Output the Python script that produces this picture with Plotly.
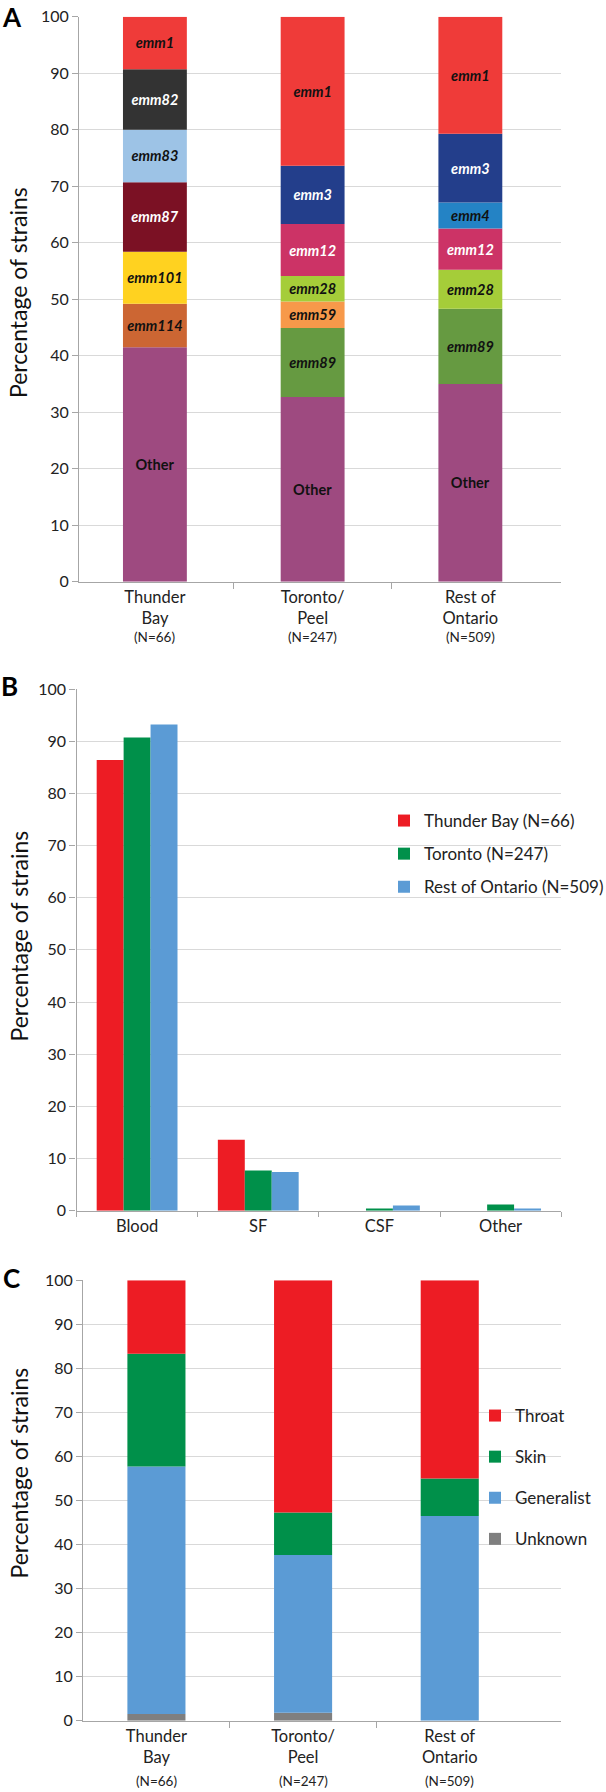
import plotly.graph_objects as go

W, H = 606, 1792
FONT = "Lato"
TXT = "#222222"
GRID = "#D9D9D9"
AXIS = "#A6A6A6"

# ---------------- Panel A data (emm types, % of strains) ----------------
regions = ["Thunder Bay", "Toronto/Peel", "Rest of Ontario"]
region_ticks = ["Thunder<br>Bay", "Toronto/<br>Peel", "Rest of<br>Ontario"]
region_n = ["(N=66)", "(N=247)", "(N=509)"]

emm_names = ["Other", "emm114", "emm101", "emm87", "emm83", "emm82",
             "emm89", "emm59", "emm28", "emm12", "emm4", "emm3", "emm1"]
other_pct = [41.5, 32.7, 35.0]
emm114_pct = [7.7, 0, 0]
emm101_pct = [9.2, 0, 0]
emm87_pct = [12.3, 0, 0]
emm83_pct = [9.3, 0, 0]
emm82_pct = [10.7, 0, 0]
emm89_pct = [0, 12.2, 13.3]
emm59_pct = [0, 4.7, 0]
emm28_pct = [0, 4.5, 6.9]
emm12_pct = [0, 9.2, 7.3]
emm4_pct = [0, 0, 4.6]
emm3_pct = [0, 10.3, 12.2]
emm1_pct = [9.3, 26.4, 20.7]
emm_values = [other_pct, emm114_pct, emm101_pct, emm87_pct, emm83_pct, emm82_pct,
              emm89_pct, emm59_pct, emm28_pct, emm12_pct, emm4_pct, emm3_pct, emm1_pct]
emm_colors = ["#9E4A80", "#CC6633", "#FFD220", "#7B1124", "#9DC3E6", "#333333",
              "#669A41", "#F7994A", "#A5CD39", "#CC3366", "#2483C5", "#233E8B", "#EF3B39"]
emm_text_colors = ["#111", "#111", "#111", "#fff", "#111", "#fff",
                   "#111", "#111", "#111", "#fff", "#111", "#fff", "#111"]

# ---------------- Panel B data (isolation site) ----------------
sites = ["Blood", "SF", "CSF", "Other"]
site_series = ["Thunder Bay (N=66)", "Toronto (N=247)", "Rest of Ontario (N=509)"]
tb_site = [86.4, 13.6, 0, 0]
tor_site = [90.7, 7.7, 0.4, 1.2]
rest_site = [93.2, 7.4, 1.0, 0.4]
site_values = [tb_site, tor_site, rest_site]
site_colors = ["#ED1C24", "#00904A", "#5B9BD5"]

# ---------------- Panel C data (tissue tropism) ----------------
tropism_names = ["Unknown", "Generalist", "Skin", "Throat"]
unknown_pct = [1.5, 1.8, 0]
generalist_pct = [56.2, 35.8, 46.5]
skin_pct = [25.6, 9.7, 8.5]
throat_pct = [16.7, 52.7, 45.0]
tropism_values = [unknown_pct, generalist_pct, skin_pct, throat_pct]
tropism_colors = ["#7F7F7F", "#5B9BD5", "#00904A", "#ED1C24"]
tropism_rank = [4, 3, 2, 1]


def px_x(p):
    return p / W


def px_y(p):
    return 1 - p / H


fig = go.Figure()
xpos = list(range(len(regions)))

# Panel A stacked bars
base = [0.0] * len(regions)
for name, vals, col, tcol in zip(emm_names, emm_values, emm_colors, emm_text_colors):
    fig.add_trace(go.Bar(
        x=xpos, y=vals, base=list(base), width=0.405,
        marker=dict(color=col, line=dict(width=0)),
        text=[name if v > 0 else "" for v in vals],
        textposition="inside", insidetextanchor="middle", textangle=0,
        textfont=dict(family=FONT, size=14.5, color=tcol, weight="bold",
                      style="normal" if name == "Other" else "italic"),
        showlegend=False, xaxis="x", yaxis="y", name=name))
    base = [b + v for b, v in zip(base, vals)]

# Panel B grouped bars
n = len(site_series)
group_w = 0.667
bw = group_w / n
for i, (name, vals, col) in enumerate(zip(site_series, site_values, site_colors)):
    fig.add_trace(go.Bar(
        x=sites, y=vals, width=bw, offset=-group_w / 2 + i * bw,
        marker=dict(color=col, line=dict(width=0)),
        name=name, legend="legend", legendgroup=name,
        xaxis="x2", yaxis="y2"))

# Panel C stacked bars
base = [0.0] * len(regions)
for name, vals, col, rk in zip(tropism_names, tropism_values, tropism_colors, tropism_rank):
    fig.add_trace(go.Bar(
        x=xpos, y=vals, base=list(base), width=0.396,
        marker=dict(color=col, line=dict(width=0)),
        name=name, legend="legend2", legendgroup=name, legendrank=rk,
        xaxis="x3", yaxis="y3"))
    base = [b + v for b, v in zip(base, vals)]

tickfont = dict(family=FONT, size=16, color=TXT)
yax = dict(range=[0, 100], tick0=0, dtick=10, showgrid=True, gridcolor=GRID, gridwidth=1,
           showline=True, linecolor=AXIS, linewidth=1.3, ticks="outside", ticklen=6,
           tickcolor=AXIS, tickfont=tickfont, zeroline=False, fixedrange=True,
           automargin=False)
xfont = dict(family=FONT, size=16.5, color=TXT)
legfont = dict(family=FONT, size=17, color=TXT)

fig.update_layout(
    width=W, height=H, margin=dict(l=0, r=0, t=0, b=0, autoexpand=False),
    paper_bgcolor="white", plot_bgcolor="white",
    barmode="overlay",
    uniformtext=dict(minsize=14, mode="show"),
    font=dict(family=FONT, color=TXT),
    xaxis=dict(domain=[px_x(79.2), px_x(561.2)], range=[-0.48, 2.576], anchor="y",
               tickmode="array", tickvals=xpos, ticktext=region_ticks, ticks="",
               tickfont=xfont, automargin=False,
               showline=True, linecolor=AXIS, linewidth=1.3, showgrid=False, zeroline=False,
               minor=dict(tickmode="array", tickvals=[0.5, 1.5], ticks="outside",
                          ticklen=6, tickcolor=AXIS, showgrid=False)),
    yaxis=dict(domain=[px_y(581.7), px_y(16.7)], anchor="x", **yax),
    xaxis2=dict(domain=[px_x(76.5), px_x(561.2)], range=[-0.5, 3.5], anchor="y2",
                type="category", categoryorder="array", categoryarray=sites,
                tickson="boundaries", ticks="outside", ticklen=5, tickcolor=AXIS,
                tickfont=xfont, automargin=False,
                showline=True, linecolor=AXIS, linewidth=1.3, showgrid=False, zeroline=False),
    yaxis2=dict(domain=[px_y(1210.7), px_y(689)], anchor="x2", **yax),
    xaxis3=dict(domain=[px_x(83.1), px_x(561.2)], range=[-0.5, 2.76], anchor="y3",
                tickmode="array", tickvals=xpos, ticktext=region_ticks, ticks="",
                tickfont=xfont, automargin=False,
                showline=True, linecolor=AXIS, linewidth=1.3, showgrid=False, zeroline=False,
                minor=dict(tickmode="array", tickvals=[0.5, 1.5], ticks="outside",
                           ticklen=6, tickcolor=AXIS, showgrid=False)),
    yaxis3=dict(domain=[px_y(1720.7), px_y(1280.3)], anchor="x3", **yax),
    legend=dict(x=px_x(384), y=px_y(803), xanchor="left", yanchor="top",
                font=legfont, tracegroupgap=8,
                bgcolor="rgba(0,0,0,0)", borderwidth=0),
    legend2=dict(x=px_x(475), y=px_y(1398), xanchor="left", yanchor="top",
                 font=legfont, tracegroupgap=16,
                 bgcolor="rgba(0,0,0,0)", borderwidth=0),
)

annotations = []
# Panel letters
for letter, (lx, ly) in zip(["A", "B", "C"], [(12, 17), (9.5, 686.5), (11, 1278)]):
    annotations.append(dict(text=letter, x=px_x(lx), y=px_y(ly), xref="paper", yref="paper",
                            showarrow=False, xanchor="center", yanchor="middle",
                            font=dict(family=FONT, size=26, color="#000", weight="bold")))
# Y axis titles
for cy in [293, 936.5, 1473.5]:
    annotations.append(dict(text="Percentage of strains", x=px_x(18), y=px_y(cy),
                            xref="paper", yref="paper", textangle=-90, showarrow=False,
                            xanchor="center", yanchor="middle",
                            font=dict(family=FONT, size=23, color="#111")))
# N labels under region names
for xr, ny in [("x", 636.7), ("x3", 1780.5)]:
    for i, lab in enumerate(region_n):
        annotations.append(dict(text=lab, x=xpos[i], y=px_y(ny), xref=xr, yref="paper",
                                showarrow=False, xanchor="center", yanchor="middle",
                                font=dict(family=FONT, size=13.5, color=TXT)))
fig.update_layout(annotations=annotations)

fig.write_html("out.html", config={"displayModeBar": False},
               post_script="document.body.style.margin='0';document.body.style.overflow='hidden';")
